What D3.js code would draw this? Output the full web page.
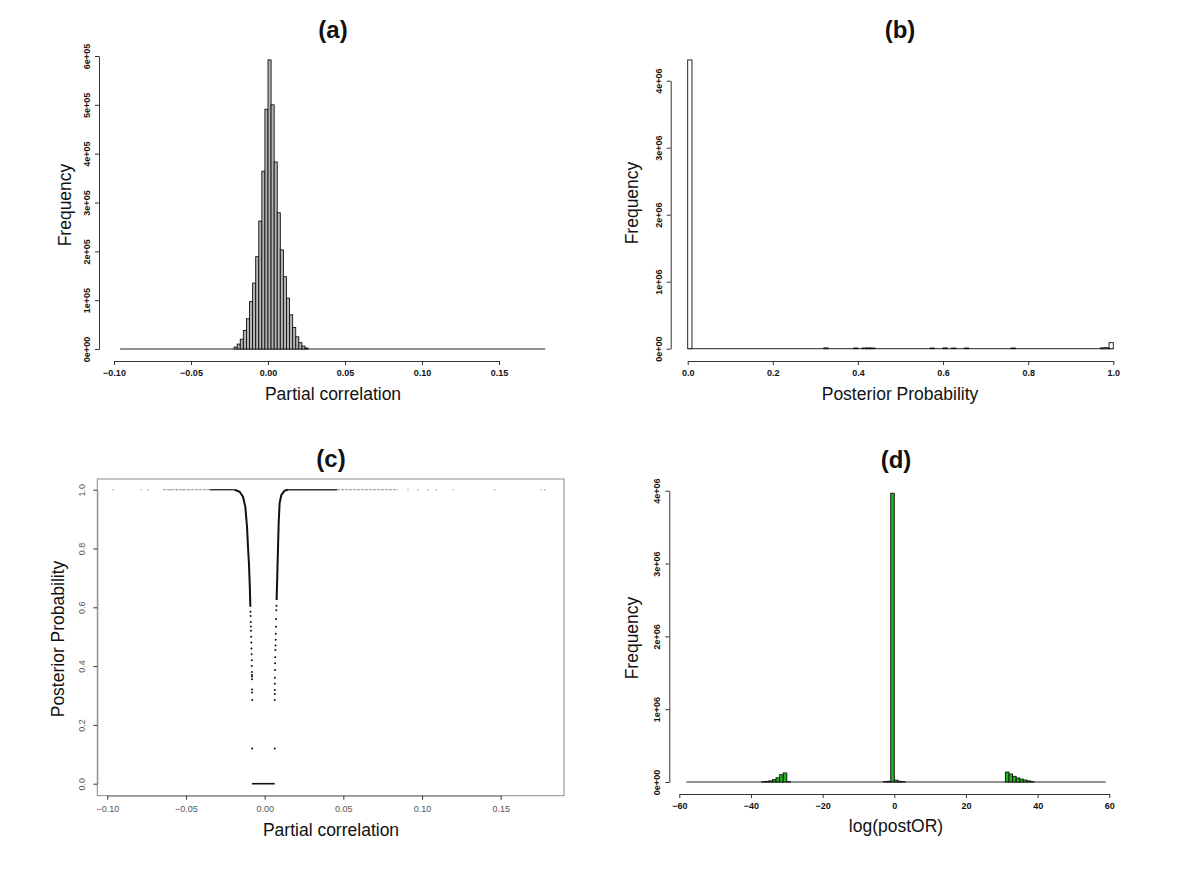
<!DOCTYPE html>
<html>
<head>
<meta charset="utf-8">
<script src="https://cdn.jsdelivr.net/npm/d3@7"></script>
<style>
body { margin: 0; background: #fff; }
text { font-family: "Liberation Sans", Arial, Helvetica, sans-serif; }
</style>
</head>
<body>
<script>
// ---- (a) histogram of partial correlations (bin width 0.002) ----
var corrBreaks = [-0.096, 0.180];
var corrBinWidth = 0.002;
var corrBinStarts = [-0.022, -0.020, -0.018, -0.016, -0.014, -0.012, -0.010, -0.008, -0.006, -0.004, -0.002,
                     0.000, 0.002, 0.004, 0.006, 0.008, 0.010, 0.012, 0.014, 0.016, 0.018, 0.020, 0.022, 0.024];
var corrCounts = [4000, 10000, 20000, 38000, 62000, 97000, 135000, 189000, 262000, 364000, 491000,
                  592000, 500000, 383000, 279000, 203000, 148000, 104000, 70000, 44000, 25000, 13000, 6000, 2000];
var corrTicks = [-0.10, -0.05, 0.00, 0.05, 0.10, 0.15];
var corrTickLabels = ["\u22120.10", "\u22120.05", "0.00", "0.05", "0.10", "0.15"];
var freqTicksA = [0, 1e5, 2e5, 3e5, 4e5, 5e5, 6e5];
var freqLabelsA = ["0e+00", "1e+05", "2e+05", "3e+05", "4e+05", "5e+05", "6e+05"];

// ---- (b) histogram of posterior probabilities (bin width 0.01) ----
var probBreaks = [0, 1];
var probBinWidth = 0.01;
var probBinStarts = [0.00, 0.32, 0.39, 0.41, 0.42, 0.43, 0.57, 0.60, 0.62, 0.65, 0.76, 0.97, 0.98, 0.99];
var probCounts = [4310000, 12000, 10000, 10000, 12000, 10000, 10000, 12000, 10000, 10000, 10000, 12000, 15000, 90000];
var probTicks = [0, 0.2, 0.4, 0.6, 0.8, 1.0];
var probTickLabels = ["0.0", "0.2", "0.4", "0.6", "0.8", "1.0"];
var freqTicksB = [0, 1e6, 2e6, 3e6, 4e6];
var freqLabelsB = ["0e+00", "1e+06", "2e+06", "3e+06", "4e+06"];

// ---- (c) posterior probability vs partial correlation ----
var leftCurve = [[-0.0191, 1.0], [-0.0159, 0.993], [-0.0138, 0.976], [-0.0123, 0.942], [-0.0112, 0.874],
                 [-0.0106, 0.806], [-0.0100, 0.750], [-0.0095, 0.682], [-0.0091, 0.602]];
var rightCurve = [[0.0148, 1.0], [0.0127, 0.997], [0.0106, 0.982], [0.0095, 0.954], [0.0089, 0.886],
                  [0.0085, 0.806], [0.0080, 0.704], [0.0076, 0.625]];
var leftDots = [[-0.0090, 0.585], [-0.0089, 0.57], [-0.0088, 0.55], [-0.0088, 0.535], [-0.0087, 0.52],
                [-0.0086, 0.50], [-0.0085, 0.48], [-0.0084, 0.46], [-0.0083, 0.44], [-0.0082, 0.42],
                [-0.0082, 0.40], [-0.0081, 0.38], [-0.0081, 0.37], [-0.0081, 0.365], [-0.0080, 0.355],
                [-0.0080, 0.32], [-0.0080, 0.31], [-0.0079, 0.285], [-0.0079, 0.12]];
var rightDots = [[0.0075, 0.605], [0.0074, 0.59], [0.0073, 0.56], [0.0072, 0.534], [0.0071, 0.51],
                 [0.0070, 0.49], [0.0069, 0.47], [0.0068, 0.455], [0.0067, 0.43], [0.0066, 0.41],
                 [0.0066, 0.387], [0.0065, 0.36], [0.0065, 0.34], [0.0064, 0.319], [0.0064, 0.305],
                 [0.0064, 0.285], [0.0064, 0.12]];
var zeroRun = [-0.0081, 0.0064];          // points sitting at probability 0
var topCore = [[-0.035, -0.0191], [0.0148, 0.046]];   // dense run at probability 1
var topFringe = [[-0.0646, -0.035], [0.046, 0.0847]];
var topSparse = [-0.0964, -0.0784, -0.0742, -0.0600, -0.0560, -0.0520, -0.0488,
                 0.0911, 0.0974, 0.1038, 0.1091, 0.1197, 0.1462, 0.1758, 0.1779];
var probTicksC = [0, 0.2, 0.4, 0.6, 0.8, 1.0];

// ---- (d) histogram of log posterior odds ratio (bin width 1) ----
var orBreaks = [-58, 59];
var orBinWidth = 1;
var orBinStarts = [-37, -36, -35, -34, -33, -32, -31, -30,
                   -3, -2, -1, 0, 1, 2,
                   31, 32, 33, 34, 35, 36, 37, 38];
var orCounts = [4000, 8000, 15000, 32000, 58000, 100000, 124000, 5000,
                5000, 10000, 3965000, 25000, 10000, 5000,
                137000, 110000, 78000, 55000, 40000, 27000, 15000, 5000];
var orTicks = [-60, -40, -20, 0, 20, 40, 60];
var orTickLabels = ["\u221260", "\u221240", "\u221220", "0", "20", "40", "60"];

var svg = d3.select("body").append("svg").attr("width", 1200).attr("height", 876);
svg.append("rect").attr("width", 1200).attr("height", 876).attr("fill", "#fff");

function styleAxis(g, weight, color) {
    g.select(".domain").attr("stroke", "#333").attr("stroke-width", 1);
    g.selectAll(".tick line").attr("stroke", "#333");
    g.selectAll(".tick text")
        .attr("font-size", "9px")
        .attr("font-weight", weight)
        .attr("fill", color)
        .attr("font-family", "'Liberation Sans', Arial, sans-serif");
}

function rotateYLabels(g, offset) {
    g.selectAll(".tick text")
        .attr("x", 0)
        .attr("dy", 0)
        .attr("text-anchor", "middle")
        .attr("transform", "translate(" + (-offset) + ",0) rotate(-90)");
}

function drawHist(cfg) {
    var x = d3.scaleLinear().domain(cfg.xDomain).range(cfg.xRange);
    var y = d3.scaleLinear().domain(cfg.yDomain).range(cfg.yRange);
    var g = svg.append("g");

    // empty bins show as a flat line
    g.append("line")
        .attr("x1", x(cfg.breaks[0])).attr("x2", x(cfg.breaks[1]))
        .attr("y1", y(0)).attr("y2", y(0))
        .style("stroke", "#222").style("stroke-width", 1);

    g.selectAll("rect.bar")
        .data(cfg.starts)
        .enter()
        .append("rect")
        .attr("class", "bar")
        .attr("x", function(d) { return x(d); })
        .attr("width", function(d) { return x(d + cfg.width) - x(d); })
        .attr("y", function(d, i) { return y(cfg.counts[i]); })
        .attr("height", function(d, i) { return y(0) - y(cfg.counts[i]); })
        .attr("fill", cfg.fill)
        .attr("stroke", "#111")
        .attr("stroke-width", 0.9);

    var xAxis = d3.axisBottom(x)
        .tickValues(cfg.xTicks)
        .tickFormat(function(d, i) { return cfg.xLabels[i]; })
        .tickSize(4).tickPadding(5).tickSizeOuter(0);
    var gx = g.append("g").attr("transform", "translate(0," + cfg.xAxisY + ")").call(xAxis);
    styleAxis(gx, "bold", "#111");

    var yAxis = d3.axisLeft(y)
        .tickValues(cfg.yTicks)
        .tickFormat(function(d, i) { return cfg.yLabels[i]; })
        .tickSize(4).tickSizeOuter(0);
    var gy = g.append("g").attr("transform", "translate(" + cfg.yAxisX + ",0)").call(yAxis);
    styleAxis(gy, "bold", "#111");
    rotateYLabels(gy, 9);
}

function addText(str, x, y, size, weight, rotate) {
    svg.append("text")
        .text(str)
        .attr("transform", "translate(" + x + "," + y + ")" + (rotate ? " rotate(-90)" : ""))
        .attr("text-anchor", "middle")
        .attr("font-size", size + "px")
        .attr("font-weight", weight)
        .attr("fill", "#111");
}

// (a)
drawHist({
    xDomain: [-0.10, 0.15], xRange: [114, 499],
    yDomain: [0, 6e5], yRange: [349, 56],
    breaks: corrBreaks, width: corrBinWidth, starts: corrBinStarts, counts: corrCounts,
    fill: "#b4b4b4",
    xTicks: corrTicks, xLabels: corrTickLabels, xAxisY: 361,
    yTicks: freqTicksA, yLabels: freqLabelsA, yAxisX: 99
});
addText("(a)", 333, 38, 24, "bold");
addText("Frequency", 71, 205, 17.5, "normal", true);
addText("Partial correlation", 333, 400, 17.5, "normal");

// (b)
drawHist({
    xDomain: [0, 1], xRange: [687.7, 1113.3],
    yDomain: [0, 4e6], yRange: [348.7, 80.7],
    breaks: probBreaks, width: probBinWidth, starts: probBinStarts, counts: probCounts,
    fill: "#fff",
    xTicks: probTicks, xLabels: probTickLabels, xAxisY: 361,
    yTicks: freqTicksB, yLabels: freqLabelsB, yAxisX: 670.7
});
addText("(b)", 900, 38, 24, "bold");
addText("Frequency", 638, 203, 17.5, "normal", true);
addText("Posterior Probability", 900, 400, 17.5, "normal");

// (d)
drawHist({
    xDomain: [-60, 60], xRange: [679.3, 1109.3],
    yDomain: [0, 4e6], yRange: [782, 490.7],
    breaks: orBreaks, width: orBinWidth, starts: orBinStarts, counts: orCounts,
    fill: "#1fb41f",
    xTicks: orTicks, xLabels: orTickLabels, xAxisY: 794,
    yTicks: freqTicksB, yLabels: freqLabelsB, yAxisX: 669.3
});
addText("(d)", 896, 468, 24, "bold");
addText("Frequency", 638, 638, 17.5, "normal", true);
addText("log(postOR)", 896, 832, 17.5, "normal");

// (c) scatter
var xc = d3.scaleLinear().domain([-0.10, 0.15]).range([107.3, 500.7]);
var yc = d3.scaleLinear().domain([0, 1]).range([783.7, 489.7]);
var gc = svg.append("g");

gc.append("rect")
    .attr("x", 97.3).attr("y", 479)
    .attr("width", 564 - 97.3).attr("height", 795.7 - 479)
    .attr("fill", "none").attr("stroke", "#8a8a8a").attr("stroke-width", 1);

var gxc = gc.append("g").attr("transform", "translate(0,795.7)")
    .call(d3.axisBottom(xc).tickValues(corrTicks)
        .tickFormat(function(d, i) { return corrTickLabels[i]; })
        .tickSize(4).tickPadding(6).tickSizeOuter(0));
styleAxis(gxc, "normal", "#555");
gxc.select(".domain").attr("stroke", "#8a8a8a");

var gyc = gc.append("g").attr("transform", "translate(97.3,0)")
    .call(d3.axisLeft(yc).tickValues(probTicksC).tickFormat(d3.format(".1f"))
        .tickSize(4).tickSizeOuter(0));
styleAxis(gyc, "normal", "#555");
gyc.select(".domain").attr("stroke", "#8a8a8a");
rotateYLabels(gyc, 12);

// dense run of points at probability 1
gc.selectAll("line.fringe")
    .data(topFringe)
    .enter()
    .append("line")
    .attr("x1", function(d) { return xc(d[0]); })
    .attr("x2", function(d) { return xc(d[1]); })
    .attr("y1", yc(1)).attr("y2", yc(1))
    .style("stroke", "#aaa").style("stroke-width", 1.2).style("stroke-dasharray", "3,1");
gc.selectAll("line.core")
    .data(topCore)
    .enter()
    .append("line")
    .attr("x1", function(d) { return xc(d[0]); })
    .attr("x2", function(d) { return xc(d[1]); })
    .attr("y1", yc(1)).attr("y2", yc(1))
    .style("stroke", "#333").style("stroke-width", 1.4);
gc.selectAll("circle.sparse")
    .data(topSparse)
    .enter()
    .append("circle")
    .attr("cx", function(d) { return xc(d); })
    .attr("cy", yc(1))
    .attr("r", 0.7)
    .attr("fill", "#999");

var curve = d3.line()
    .x(function(d) { return xc(d[0]); })
    .y(function(d) { return yc(d[1]); });
[leftCurve, rightCurve].forEach(function(c) {
    gc.append("path")
        .attr("d", curve(c))
        .attr("fill", "none")
        .attr("stroke", "#111")
        .attr("stroke-width", 2);
});

gc.selectAll("circle.dot")
    .data(leftDots.concat(rightDots))
    .enter()
    .append("circle")
    .attr("cx", function(d) { return xc(d[0]); })
    .attr("cy", function(d) { return yc(d[1]); })
    .attr("r", 1)
    .attr("fill", "#111");

gc.append("line")
    .attr("x1", xc(zeroRun[0])).attr("x2", xc(zeroRun[1]))
    .attr("y1", yc(0)).attr("y2", yc(0))
    .style("stroke", "#111").style("stroke-width", 1.6);

addText("(c)", 331, 467, 24, "bold");
addText("Posterior Probability", 64, 639, 17.5, "normal", true);
addText("Partial correlation", 331, 836, 17.5, "normal");
</script>
</body>
</html>
